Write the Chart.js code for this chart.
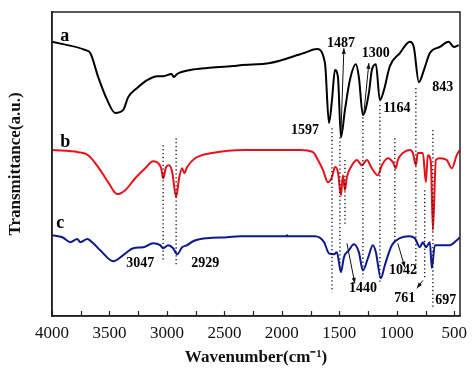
<!DOCTYPE html>
<html>
<head>
<meta charset="utf-8">
<script src="https://cdn.jsdelivr.net/npm/chart.js@4.4.1/dist/chart.umd.min.js"></script>
<style>
  html, body { margin: 0; padding: 0; background: #fff; }
</style>
</head>
<body>
<canvas id="ftirChart" width="474" height="370"></canvas>
<script>
// Spectrum a (black)
const waveA = [4000, 3711, 3667, 3598, 3519, 3450, 3380, 3337, 3259, 3172, 3085, 3033, 2960, 2940, 2911, 2798, 2650, 2425,
  2364, 2103, 1807, 1694, 1625, 1590, 1564, 1538, 1512, 1486, 1451, 1408, 1356, 1330, 1295, 1243, 1217, 1182, 1147, 1112,
  1060, 973, 886, 852, 808, 764, 712, 625, 548, 504, 461];
const transA = [90.2, 87.5, 86.5, 78.6, 71.0, 66.8, 67.8, 72.0, 75.0, 77.6, 78.9, 78.9, 79.6, 78.6, 79.6, 80.9, 81.6, 82.2,
  82.5, 83.2, 86.5, 87.8, 83.2, 63.5, 71.0, 80.9, 78.6, 58.8, 67.8, 77.6, 82.8, 78.6, 66.1, 73.3, 80.9, 82.8, 71.0, 74.3,
  82.2, 86.5, 90.2, 88.5, 76.9, 80.9, 86.5, 88.5, 90.2, 88.5, 89.1];

// Spectrum b (red)
const waveB = [4000, 3771, 3685, 3598, 3511, 3433, 3363, 3276, 3189, 3120, 3076, 3050, 3033, 3007, 2980, 2954, 2920, 2894,
  2868, 2850, 2824, 2755, 2607, 2320, 2033, 1842, 1729, 1686, 1642, 1599, 1564, 1538, 1512, 1486, 1469, 1451, 1434, 1390,
  1347, 1304, 1260, 1217, 1165, 1130, 1078, 1034, 1008, 991, 947, 886, 860, 834, 817, 773, 747, 730, 703, 686, 660, 625,
  565, 521, 478, 452];
const transB = [54.6, 53.9, 52.9, 49.0, 44.0, 40.1, 41.4, 45.3, 48.6, 50.9, 50.3, 48.6, 45.3, 49.0, 49.6, 47.3, 39.1, 45.3,
  48.6, 47.0, 49.0, 51.9, 53.6, 54.6, 54.6, 54.6, 53.9, 51.3, 48.0, 44.0, 45.7, 49.0, 47.3, 39.7, 46.3, 41.4, 45.7, 49.6,
  51.3, 49.6, 51.3, 48.6, 46.3, 49.6, 51.9, 50.6, 48.6, 51.3, 53.6, 54.6, 53.6, 49.6, 53.6, 53.6, 44.0, 52.9, 50.6, 28.2,
  51.3, 51.9, 51.3, 48.6, 52.9, 54.6];

// Spectrum c (blue)
const waveC = [4000, 3910, 3841, 3780, 3754, 3693, 3641, 3580, 3467, 3380, 3293, 3207, 3120, 3059, 3033, 2989, 2946, 2911,
  2868, 2824, 2772, 2650, 2477, 2364, 1960, 1955, 1950, 1712, 1633, 1590, 1547, 1521, 1486, 1460, 1417, 1373, 1330, 1295,
  1251, 1208, 1182, 1139, 1104, 1043, 973, 895, 843, 799, 773, 747, 712, 695, 669, 625, 539, 478, 452];
const transC = [26.6, 25.9, 24.3, 25.3, 24.3, 25.3, 23.9, 21.6, 18.0, 20.0, 22.3, 22.6, 23.9, 23.3, 22.3, 23.3, 22.3, 20.3,
  22.6, 23.3, 24.6, 25.6, 25.9, 26.2, 26.2, 26.6, 26.2, 26.2, 24.3, 20.6, 20.3, 21.0, 14.4, 19.3, 21.6, 23.6, 21.0, 15.0,
  19.0, 23.3, 21.0, 12.4, 16.7, 23.3, 25.6, 26.2, 25.6, 22.6, 24.3, 22.6, 24.3, 15.7, 23.3, 23.3, 23.3, 24.9, 25.9];

// x axis ticks (every 250, labels every 500)
const tickValues = [500, 750, 1000, 1250, 1500, 1750, 2000, 2250, 2500, 2750, 3000, 3250, 3500, 3750, 4000];

// curve names
const curveNames = ['a', 'b', 'c'];
const nameWave = [3928, 3928, 3963];
const nameY = [90.4, 55.5, 28.9];

// peak labels
const peakText = ['1487', '1300', '1597', '1164', '843', '3047', '2929', '1440', '1042', '761', '697'];
const peakWave = [1486, 1182, 1799, 1000, 600, 3233, 2667, 1295, 947, 930, 574];
const peakY = [89.8, 86.5, 61.1, 68.4, 75.3, 17.4, 17.4, 9.1, 15.0, 5.8, 5.2];

// dotted guide lines
const dotWave = [3033, 2920, 1564, 1495, 1451, 1295, 1147, 1017, 834, 757, 686];
const dotTop = [56.2, 58.5, 61.8, 58.8, 51.3, 65.4, 69.4, 58.5, 75.0, 41.4, 61.2];
const dotBottom = [18.3, 16.7, 7.8, 15.0, 29.8, 12.7, 10.8, 23.9, 14.1, 12.4, 2.8];

// arrows (from -> to, head at "to")
const arrowFromWave = [1486, 1286, 1434, 991, 773];
const arrowFromY = [60.1, 66.8, 23.9, 23.9, 11.7];
const arrowToWave = [1460, 1243, 1365, 930, 825];
const arrowToY = [88.1, 83.2, 10.7, 16.0, 9.1];

const serif = "'Liberation Serif', 'Times New Roman', serif";

function toPoints(xs, ys) {
    return xs.map((x, i) => ({ x: x, y: ys[i] }));
}

const decorPlugin = {
    id: 'ftirDecor',
    afterDatasetsDraw(chart) {
        const c = chart.ctx;
        const xs = chart.scales.x;
        const ys = chart.scales.y;
        const area = chart.chartArea;
        c.save();

        // frame
        c.strokeStyle = '#222';
        c.lineWidth = 1.5;
        c.strokeRect(area.left, area.top, area.right - area.left, area.bottom - area.top);

        // inward ticks
        c.lineWidth = 1.2;
        xs.ticks.forEach(t => {
            const px = Math.round(xs.getPixelForValue(t.value)) + 0.5;
            c.beginPath();
            c.moveTo(px, area.bottom);
            c.lineTo(px, area.bottom - 5);
            c.stroke();
        });

        // dotted lines
        c.strokeStyle = '#111';
        c.lineWidth = 1.3;
        c.setLineDash([1.3, 2.6]);
        dotWave.forEach((w, i) => {
            const px = xs.getPixelForValue(w);
            c.beginPath();
            c.moveTo(px, ys.getPixelForValue(dotTop[i]));
            c.lineTo(px, ys.getPixelForValue(dotBottom[i]));
            c.stroke();
        });
        c.setLineDash([]);

        // arrows
        c.lineWidth = 1;
        c.fillStyle = '#111';
        arrowFromWave.forEach((w, i) => {
            const x1 = xs.getPixelForValue(w), y1 = ys.getPixelForValue(arrowFromY[i]);
            const x2 = xs.getPixelForValue(arrowToWave[i]), y2 = ys.getPixelForValue(arrowToY[i]);
            const ang = Math.atan2(y2 - y1, x2 - x1);
            c.beginPath();
            c.moveTo(x1, y1);
            c.lineTo(x2, y2);
            c.stroke();
            c.beginPath();
            c.moveTo(x2, y2);
            c.lineTo(x2 - 6 * Math.cos(ang - 0.35), y2 - 6 * Math.sin(ang - 0.35));
            c.lineTo(x2 - 6 * Math.cos(ang + 0.35), y2 - 6 * Math.sin(ang + 0.35));
            c.closePath();
            c.fill();
        });

        // curve names
        c.fillStyle = '#000';
        c.font = 'bold 18px ' + serif;
        c.textAlign = 'left';
        c.textBaseline = 'alphabetic';
        curveNames.forEach((n, i) => {
            c.fillText(n, xs.getPixelForValue(nameWave[i]), ys.getPixelForValue(nameY[i]));
        });

        // peak labels
        c.font = 'bold 14px ' + serif;
        c.textAlign = 'center';
        c.textBaseline = 'middle';
        peakText.forEach((t, i) => {
            c.fillText(t, xs.getPixelForValue(peakWave[i]), ys.getPixelForValue(peakY[i]));
        });

        c.restore();
    }
};

const ctx = document.getElementById('ftirChart').getContext('2d');
const ftirChart = new Chart(ctx, {
    type: 'line',
    data: {
        datasets: [
            {
                label: 'a',
                data: toPoints(waveA, transA),
                borderColor: '#000000',
                borderWidth: 2
            },
            {
                label: 'b',
                data: toPoints(waveB, transB),
                borderColor: '#e8111a',
                borderWidth: 2
            },
            {
                label: 'c',
                data: toPoints(waveC, transC),
                borderColor: '#0d1a8c',
                borderWidth: 2
            }
        ]
    },
    options: {
        responsive: false,
        animation: false,
        devicePixelRatio: 1,
        layout: {
            padding: { top: 12, right: 14, left: 0, bottom: 0 }
        },
        elements: {
            point: { radius: 0 },
            line: { cubicInterpolationMode: 'monotone' }
        },
        scales: {
            x: {
                type: 'linear',
                reverse: true,
                min: 450,
                max: 4000,
                afterBuildTicks: s => { s.ticks = tickValues.map(v => ({ value: v })); },
                afterFit: s => { s.height = 54; },
                grid: { display: false, drawTicks: false },
                border: { display: true, color: '#222', width: 1.5 },
                ticks: {
                    autoSkip: false,
                    maxRotation: 0,
                    padding: 7,
                    color: '#111',
                    font: { family: serif, size: 17 },
                    callback: v => (v % 500 === 0 ? String(v) : '')
                },
                title: {
                    display: true,
                    text: 'Wavenumber(cm\u207B\u00B9)',
                    color: '#111',
                    font: { family: serif, size: 17, weight: 'bold' },
                    padding: { top: 2, bottom: 2 }
                }
            },
            y: {
                min: 0,
                max: 100,
                afterFit: s => { s.width = 52; },
                grid: { display: false, drawTicks: false },
                border: { display: true, color: '#222', width: 1.5 },
                ticks: { display: false },
                title: {
                    display: true,
                    text: 'Transmittance(a.u.)',
                    color: '#111',
                    font: { family: serif, size: 17, weight: 'bold' },
                    padding: { top: 5, bottom: 0 }
                }
            }
        },
        plugins: {
            legend: { display: false },
            tooltip: { enabled: false }
        }
    },
    plugins: [decorPlugin]
});
</script>
</body>
</html>
